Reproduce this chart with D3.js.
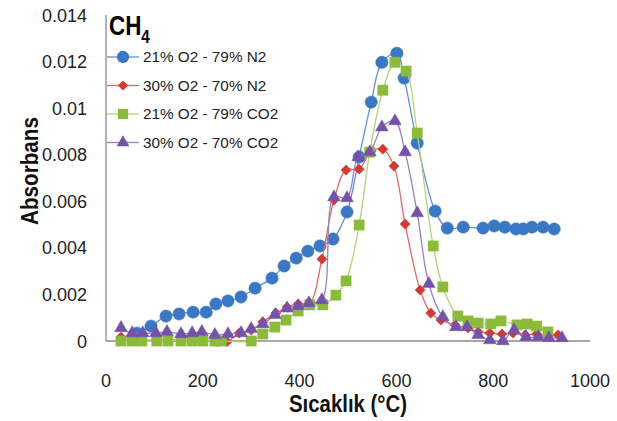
<!DOCTYPE html>
<html>
<head>
<meta charset="utf-8">
<script src="https://cdn.jsdelivr.net/npm/d3@7"></script>
<style>
  body { margin: 0; background: #fff; }
  svg { font-family: "Liberation Sans", Arial, sans-serif; }
</style>
</head>
<body>
<div id="chart"></div>
<script>
// series data: temperature (°C) and absorbance
var n2_21_T = [64, 93, 124, 151, 180, 207, 227, 252, 279, 308, 343, 368, 393, 417, 442, 469, 498, 523, 548, 570, 601, 616, 643, 680, 705, 738, 779, 802, 824, 847, 862, 880, 903, 926];
var n2_21_A = [0.00034, 0.00064, 0.00107, 0.00116, 0.00124, 0.00124, 0.00159, 0.00172, 0.00189, 0.00227, 0.0027, 0.00322, 0.00356, 0.00386, 0.00408, 0.00438, 0.00554, 0.0079, 0.01026, 0.01197, 0.01236, 0.01129, 0.0085, 0.00558, 0.00485, 0.00489, 0.00485, 0.00494, 0.00489, 0.00481, 0.00481, 0.00489, 0.00489, 0.00481];

var n2_30_T = [31, 54, 74, 105, 128, 155, 178, 200, 225, 250, 275, 300, 324, 351, 374, 397, 421, 446, 471, 496, 523, 548, 572, 595, 618, 649, 671, 692, 721, 748, 769, 793, 818, 841, 866, 890, 913, 934];
var n2_30_A = [0.00017, 0.00009, 0.00004, 0.00004, 0.00004, 0.00004, 0.00004, 0.00004, 0.0, -0.00003, 0.00034, 0.00047, 0.00082, 0.0012, 0.00146, 0.00159, 0.00163, 0.00352, 0.00605, 0.00734, 0.00738, 0.00815, 0.00824, 0.00751, 0.00502, 0.00219, 0.0012, 0.0009, 0.00069, 0.00056, 0.00039, 0.00034, 0.0003, 0.00034, 0.00026, 0.0003, 0.00021, 0.00026];

var co2_21_T = [31, 54, 74, 105, 128, 155, 178, 200, 225, 238, 300, 324, 349, 372, 397, 421, 448, 475, 496, 523, 545, 572, 597, 620, 643, 676, 696, 727, 748, 769, 795, 816, 849, 870, 890, 913];
var co2_21_A = [0, 0, 0, 0, 0, 0, 0, 0, 0, 0, 0, 0.0003, 0.0006, 0.0009, 0.00129, 0.00155, 0.00155, 0.00197, 0.00258, 0.00498, 0.00811, 0.01077, 0.01197, 0.01159, 0.00893, 0.00408, 0.00232, 0.00107, 0.00086, 0.00077, 0.00073, 0.00086, 0.00069, 0.00073, 0.00064, 0.00039];

var co2_30_T = [31, 54, 76, 103, 126, 155, 178, 198, 225, 252, 279, 300, 324, 349, 374, 397, 419, 446, 471, 498, 521, 545, 570, 597, 618, 643, 667, 696, 723, 746, 769, 793, 820, 843, 868, 893, 915, 942];
var co2_30_A = [0.00056, 0.00034, 0.00034, 0.00034, 0.00039, 0.0003, 0.00034, 0.00039, 0.00026, 0.0003, 0.00034, 0.00052, 0.00073, 0.00112, 0.0014, 0.0015, 0.00163, 0.00176, 0.00618, 0.00614, 0.0079, 0.00811, 0.00918, 0.00944, 0.00811, 0.00549, 0.00245, 0.00103, 0.0006, 0.0006, 0.00026, 0.00004, 0, 0.00047, 0.00017, 0.00017, 0.00013, 0.00013];

var seriesNames = ["21% O2 - 79% N2", "30% O2 - 70% N2", "21% O2 - 79% CO2", "30% O2 - 70% CO2"];
var xTicks = [0, 200, 400, 600, 800, 1000];
var yTicks = [0, 0.002, 0.004, 0.006, 0.008, 0.01, 0.012, 0.014];

var W = 617, H = 421;
var svg = d3.select("#chart").append("svg").attr("width", W).attr("height", H);

var x = d3.scaleLinear().domain([0, 1000]).range([106, 590]);
var y = d3.scaleLinear().domain([0, 0.014]).range([341, 15]);

var series = [
  {name: seriesNames[0], T: n2_21_T, A: n2_21_A, fill: "#3a78c4", line: "#5d93d6", shape: "circle"},
  {name: seriesNames[1], T: n2_30_T, A: n2_30_A, fill: "#d33a35", line: "#e06b67", shape: "diamond"},
  {name: seriesNames[2], T: co2_21_T, A: co2_21_A, fill: "#8cbb3c", line: "#b3d27a", shape: "square"},
  {name: seriesNames[3], T: co2_30_T, A: co2_30_A, fill: "#7452a8", line: "#9a80c4", shape: "triangle"}
];

// axes lines
svg.append("line").attr("x1", 106).attr("x2", 106).attr("y1", y(0.014)).attr("y2", y(0))
  .attr("stroke", "#8a8a8a").attr("stroke-width", 1.3);
svg.append("line").attr("x1", 106).attr("x2", x(1000)).attr("y1", y(0)).attr("y2", y(0))
  .attr("stroke", "#8a8a8a").attr("stroke-width", 1.3);

// tick labels
svg.append("g").selectAll("text").data(yTicks).enter().append("text")
  .attr("x", 87).attr("y", function(d){ return y(d) + 6.5; })
  .attr("text-anchor", "end").attr("font-size", 18).attr("fill", "#222")
  .text(function(d){ return d === 0 ? "0" : String(+d.toFixed(3)); });

svg.append("g").selectAll("text").data(xTicks).enter().append("text")
  .attr("x", function(d){ return x(d); }).attr("y", 387)
  .attr("text-anchor", "middle").attr("font-size", 18).attr("fill", "#222")
  .text(function(d){ return d; });

// axis titles (narrowed to mimic the condensed original face)
svg.append("text").attr("x", 348).attr("y", 412).attr("text-anchor", "middle")
  .attr("font-size", 23).attr("font-weight", "bold").attr("fill", "#111")
  .attr("textLength", 118).attr("lengthAdjust", "spacingAndGlyphs")
  .text("Sıcaklık (°C)");
svg.append("text").attr("transform", "translate(38,171) rotate(-90)").attr("text-anchor", "middle")
  .attr("font-size", 23).attr("font-weight", "bold").attr("fill", "#111")
  .attr("textLength", 108).attr("lengthAdjust", "spacingAndGlyphs")
  .text("Absorbans");

// chart title CH4
var title = svg.append("text").attr("transform", "translate(109,35) scale(0.8,1)")
  .attr("font-size", 28).attr("font-weight", "bold").attr("fill", "#000");
title.append("tspan").text("CH");
title.append("tspan").attr("font-size", 19).attr("dy", 8).text("4");

function symbolPath(shape){
  if (shape === "circle") return d3.symbol(d3.symbolCircle, 120)();
  if (shape === "diamond") return d3.symbol(d3.symbolSquare, 52)();
  if (shape === "square") return d3.symbol(d3.symbolSquare, 105)();
  return d3.symbol(d3.symbolTriangle, 70)();
}

var line = d3.line()
  .x(function(d){ return x(d[0]); })
  .y(function(d){ return y(d[1]); })
  .curve(d3.curveCatmullRom.alpha(0.5));

series.forEach(function(s){
  var pts = s.T.map(function(t, i){ return [t, s.A[i]]; });
  var g = svg.append("g");
  g.append("path").attr("d", line(pts)).attr("fill", "none")
    .attr("stroke", s.line).attr("stroke-width", 1.3);
  g.selectAll("path.m").data(pts).enter().append("path").attr("class", "m")
    .attr("d", symbolPath(s.shape))
    .attr("transform", function(d){
      var r = s.shape === "diamond" ? " rotate(45)" : "";
      return "translate(" + x(d[0]) + "," + y(d[1]) + ")" + r;
    })
    .attr("fill", s.fill).attr("stroke", s.fill).attr("stroke-width", 0.5);
});

// legend
var leg = svg.append("g").selectAll("g").data(series).enter().append("g")
  .attr("transform", function(d, i){ return "translate(107," + (57 + i * 28.5) + ")"; });
leg.append("line").attr("x1", 0).attr("x2", 32).attr("stroke", function(d){ return d.line; }).attr("stroke-width", 1.3);
leg.append("path").attr("d", function(d){ return symbolPath(d.shape); })
  .attr("transform", function(d){ return "translate(16,0)" + (d.shape === "diamond" ? " rotate(45)" : ""); })
  .attr("fill", function(d){ return d.fill; });
leg.append("text").attr("x", 36).attr("y", 5).attr("font-size", 15.3).attr("fill", "#222")
  .text(function(d){ return d.name; });
</script>
</body>
</html>
